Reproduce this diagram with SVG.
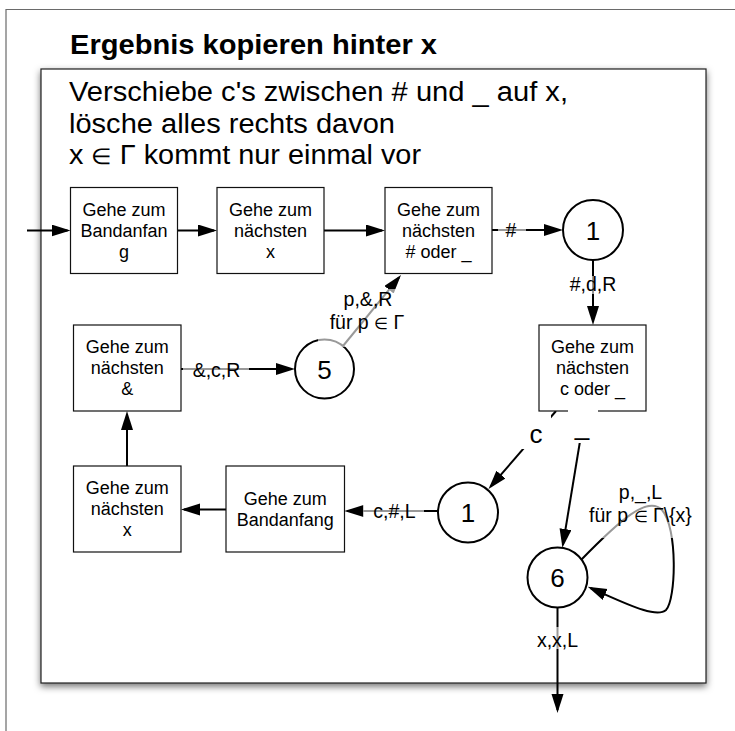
<svg xmlns="http://www.w3.org/2000/svg" width="735" height="731" viewBox="0 0 735 731">
  <defs>
    <marker id="arrow" markerUnits="userSpaceOnUse" markerWidth="19" markerHeight="13" refX="16" refY="6" orient="auto">
      <path d="M0,0 L19,6 L0,12 Z" fill="#000"/>
    </marker>
    <filter id="shadow" x="-5%" y="-5%" width="110%" height="110%">
      <feDropShadow dx="0" dy="3" stdDeviation="3.5" flood-color="#000" flood-opacity="0.55"/>
    </filter>
  </defs>
  <style>
    .frame { fill: none; stroke: #6a6a6a; stroke-width: 1.2; }
    .panel { fill: #fff; stroke: #222; stroke-width: 1.2; }
    .box { fill: #fff; stroke: #111; stroke-width: 1.2; }
    .state { fill: #fff; stroke: #000; stroke-width: 2; }
    .edge { fill: none; stroke: #000; stroke-width: 2; marker-end: url(#arrow); }
    .head { font-family: "Liberation Sans", Arial, Helvetica, sans-serif; font-weight: bold; font-size: 27px; fill: #000; }
    .note { font-family: "Liberation Sans", Arial, Helvetica, sans-serif; font-size: 27px; fill: #000; }
    .btxt { font-family: "Liberation Sans", Arial, Helvetica, sans-serif; font-size: 18px; fill: #000; text-anchor: middle; }
    .num { font-family: "Liberation Sans", Arial, Helvetica, sans-serif; font-size: 26px; fill: #000; text-anchor: middle; }
    .lbl { font-family: "Liberation Sans", Arial, Helvetica, sans-serif; font-size: 19.5px; fill: #000; text-anchor: middle; }
    .big { font-family: "Liberation Sans", Arial, Helvetica, sans-serif; font-size: 26px; fill: #000; text-anchor: middle; }
    .sym { font-size: 82%; }
    .veil { fill: #fff; fill-opacity: 0.6; }
    .solid { fill: #fff; }
  </style>

  <!-- outer page frame -->
  <path class="frame" d="M6,731 V9.5 H735"/>

  <text class="head" x="70" y="54" textLength="367" lengthAdjust="spacingAndGlyphs">Ergebnis kopieren hinter x</text>

  <!-- main panel -->
  <rect class="panel" x="41" y="69" width="665" height="614" filter="url(#shadow)"/>
  <text class="note" x="69" y="101" textLength="499" lengthAdjust="spacingAndGlyphs">Verschiebe c's zwischen # und _ auf x,</text>
  <text class="note" x="69" y="132.5" textLength="326" lengthAdjust="spacingAndGlyphs">lösche alles rechts davon</text>
  <text class="note" x="69" y="164" textLength="352" lengthAdjust="spacingAndGlyphs">x <tspan class="sym">∈</tspan> Γ kommt nur einmal vor</text>

  <!-- connectors -->
  <g id="connectors">
    <path class="edge" d="M27,230.5 H67.5"/>
    <path class="edge" d="M177.5,230.5 H214"/>
    <path class="edge" d="M324,230.5 H382"/>
    <path class="edge" d="M492,230 H560"/>
    <path class="edge" d="M593,260 V322"/>
    <path class="edge" d="M556,411 L490.5,486.7"/>
    <path class="edge" d="M585,411 L562.9,544.9"/>
    <path class="edge" d="M438,511 H347.5"/>
    <path class="edge" d="M226,509.5 H184"/>
    <path class="edge" d="M127,466 V414"/>
    <path class="edge" d="M181,369 H292"/>
    <path class="edge" d="M343,346 L399.1,277.3"/>
    <path class="edge" d="M581,560 C620,520 648,495 662,510 C678,528 676,600 666,610 C656,619 625,603 590.5,588"/>
    <path class="edge" d="M557.5,607.5 V710"/>
  </g>

  <!-- nodes -->
  <g id="start-band">
    <rect class="box" x="70.5" y="187.5" width="107" height="86"/>
    <text class="btxt" x="124" y="215.5">Gehe zum</text>
    <text class="btxt" x="124" y="236.5">Bandanfan</text>
    <text class="btxt" x="124" y="257.5">g</text>
  </g>
  <g id="next-x-top">
    <rect class="box" x="217" y="187.5" width="107" height="86"/>
    <text class="btxt" x="270.5" y="215.5">Gehe zum</text>
    <text class="btxt" x="270.5" y="236.5">nächsten</text>
    <text class="btxt" x="270.5" y="257.5">x</text>
  </g>
  <g id="next-hash">
    <rect class="box" x="385" y="187.5" width="107" height="86"/>
    <text class="btxt" x="438.5" y="215.5">Gehe zum</text>
    <text class="btxt" x="438.5" y="236.5">nächsten</text>
    <text class="btxt" x="438.5" y="257.5"># oder _</text>
  </g>
  <g id="state-1-top">
    <circle class="state" cx="593" cy="230" r="30"/>
    <text class="num" x="593" y="239.5">1</text>
  </g>
  <g id="next-c">
    <rect class="box" x="539" y="325" width="107" height="86"/>
    <text class="btxt" x="592.5" y="353">Gehe zum</text>
    <text class="btxt" x="592.5" y="374">nächsten</text>
    <text class="btxt" x="592.5" y="395">c oder _</text>
  </g>
  <g id="next-amp">
    <rect class="box" x="73.5" y="325" width="107.5" height="86"/>
    <text class="btxt" x="127.25" y="353">Gehe zum</text>
    <text class="btxt" x="127.25" y="374">nächsten</text>
    <text class="btxt" x="127.25" y="395">&amp;</text>
  </g>
  <g id="state-5">
    <circle class="state" cx="324.5" cy="369" r="29.5"/>
    <text class="num" x="324.5" y="378.5">5</text>
  </g>
  <g id="next-x-bottom">
    <rect class="box" x="73.5" y="466" width="107.5" height="86"/>
    <text class="btxt" x="127.25" y="494">Gehe zum</text>
    <text class="btxt" x="127.25" y="515">nächsten</text>
    <text class="btxt" x="127.25" y="536">x</text>
  </g>
  <g id="back-band">
    <rect class="box" x="226" y="466" width="118.5" height="86"/>
    <text class="btxt" x="285.25" y="505">Gehe zum</text>
    <text class="btxt" x="285.25" y="526">Bandanfang</text>
  </g>
  <g id="state-1-bottom">
    <circle class="state" cx="468" cy="512.5" r="30"/>
    <text class="num" x="468" y="522">1</text>
  </g>
  <g id="state-6">
    <circle class="state" cx="557.5" cy="577.5" r="30"/>
    <text class="num" x="557.5" y="587">6</text>
  </g>

  <!-- connector labels -->
  <g id="labels">
    <rect class="veil" x="498" y="220" width="28" height="20"/>
    <text class="lbl" x="511" y="237">#</text>

    <rect class="veil" x="566" y="276" width="54" height="18"/>
    <text class="lbl" x="593" y="290.5">#,d,R</text>

    <rect class="veil" x="183" y="360" width="66" height="20"/>
    <text class="lbl" x="216.5" y="376.5">&amp;,c,R</text>

    <rect class="veil" x="318" y="289" width="98" height="58"/>
    <text class="lbl" x="368" y="305.5">p,&amp;,R</text>
    <text class="lbl" x="367" y="329">für p <tspan class="sym">∈</tspan> Γ</text>

    <rect class="veil" x="363" y="501" width="61" height="20"/>
    <text class="lbl" x="394.5" y="517.5">c,#,L</text>

    <rect class="veil" x="530" y="627" width="55" height="22"/>
    <text class="lbl" x="557.5" y="646.5">x,x,L</text>

    <rect class="veil" x="582" y="482" width="117" height="56"/>
    <text class="lbl" x="640.5" y="498.5">p,_,L</text>
    <text class="lbl" x="640.5" y="522">für p <tspan class="sym">∈</tspan> Γ\{x}</text>

    <rect class="solid" x="521" y="414" width="30" height="35"/>
    <text class="big" x="536" y="443">c</text>

    <rect class="solid" x="568" y="409" width="30" height="34"/>
    <text class="big" x="582" y="434.5">_</text>
  </g>
</svg>
